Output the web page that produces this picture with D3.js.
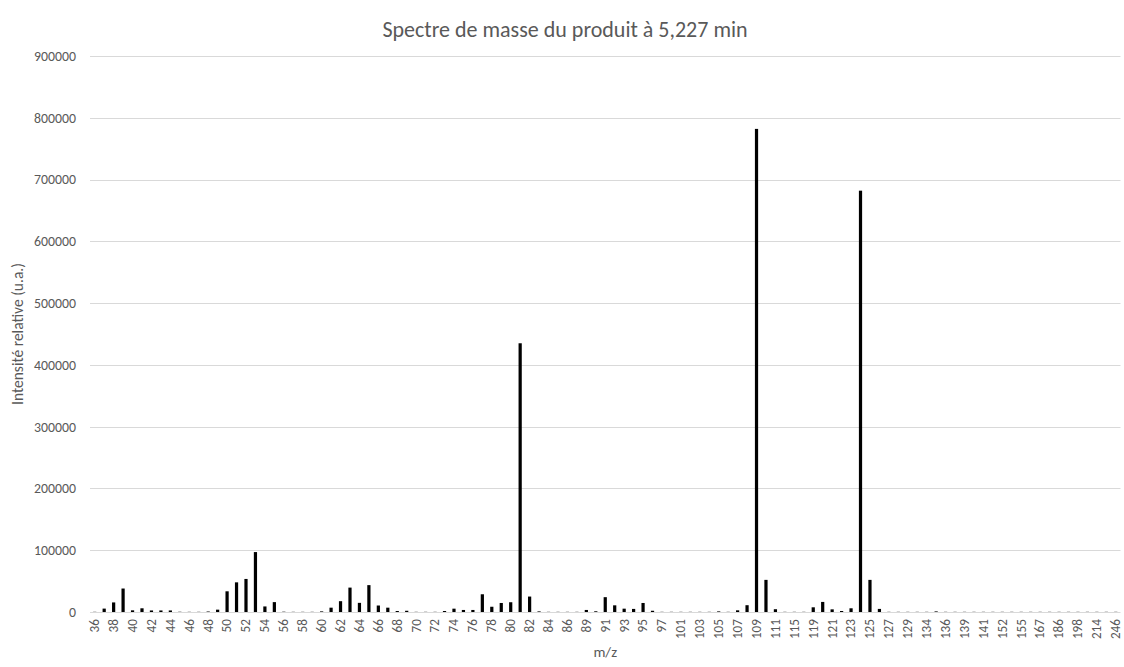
<!DOCTYPE html>
<html>
<head>
<meta charset="utf-8">
<script src="https://cdn.jsdelivr.net/npm/d3@7/dist/d3.min.js"></script>
<style>
  html, body { margin: 0; padding: 0; background: #fff; }
  svg { display: block; }
  text { font-family: Calibri, Carlito, "Open Sans", sans-serif; fill: #595959; }
</style>
</head>
<body>
<svg id="chart" width="1124" height="667"></svg>
<script>
// m/z categories (one bar each) and their intensities
const mzValues = [
  36, 37, 38, 39, 40, 41, 42, 43, 44, 45, 46, 47, 48, 49, 50, 51, 52, 53, 54, 55,
  56, 57, 58, 59, 60, 61, 62, 63, 64, 65, 66, 67, 68, 69, 70, 71, 72, 73, 74, 75,
  76, 77, 78, 79, 80, 81, 82, 83, 84, 85, 86, 87, 89, 90, 91, 92, 93, 94, 95, 96,
  97, 99, 101, 102, 103, 104, 105, 106, 107, 108, 109, 110, 111, 113, 115, 117, 119, 120, 121, 122,
  123, 124, 125, 126, 127, 128, 129, 131, 134, 135, 136, 137, 139, 140, 141, 147, 152, 154, 155, 163,
  167, 178, 186, 191, 198, 207, 214, 230, 246
];
const intensities = [
  300, 5500, 15500, 38000, 2700, 6000, 2500, 2500, 2500, 400, 300, 300, 800, 3800, 33500, 48000, 53500, 97000, 9000, 16000,
  500, 300, 300, 300, 1000, 7000, 17500, 39500, 14800, 43500, 10500, 7000, 1600, 2000, 300, 300, 300, 1600, 5400, 3300,
  3300, 28700, 8500, 14600, 15800, 435000, 25000, 1000, 300, 300, 300, 300, 3300, 1200, 24000, 10800, 5400, 5000, 14600, 2000,
  300, 300, 300, 300, 300, 300, 1000, 300, 2700, 11000, 782000, 52000, 4500, 300, 300, 300, 7600, 16300, 4300, 1600,
  6000, 682000, 52000, 5000, 300, 300, 300, 300, 300, 1000, 300, 300, 300, 300, 300, 300, 300, 300, 300, 300,
  300, 300, 300, 300, 300, 300, 300, 300, 300
];
const yTicks = [0, 100000, 200000, 300000, 400000, 500000, 600000, 700000, 800000, 900000];

const titleText = "Spectre de masse du produit à 5,227 min";
const xTitle = "m/z";
const yTitle = "Intensité relative (u.a.)";

const data = mzValues.map((mz, i) => ({ mz: String(mz), v: intensities[i] }));

const svg = d3.select("#chart");
const margin = { left: 90, right: 1120.5, top: 56, bottom: 612 };

const x = d3.scaleBand()
  .domain(data.map(d => d.mz))
  .range([margin.left, margin.right])
  .paddingInner(0.66)
  .paddingOuter(0.33);

const y = d3.scaleLinear()
  .domain([0, 900000])
  .range([margin.bottom, margin.top]);

// horizontal gridlines
svg.append("g")
  .selectAll("line")
  .data(yTicks)
  .join("line")
  .attr("x1", margin.left)
  .attr("x2", margin.right)
  .attr("y1", d => Math.round(y(d)) + 0.5)
  .attr("y2", d => Math.round(y(d)) + 0.5)
  .attr("stroke", "#d9d9d9")
  .attr("stroke-width", 1);

// y axis labels
const yAxis = d3.axisLeft(y).tickValues(yTicks).tickSize(0).tickPadding(0).tickFormat(d3.format("d"));
const gy = svg.append("g").attr("transform", `translate(${margin.left - 14},0)`).call(yAxis);
gy.select(".domain").remove();
gy.selectAll("text").style("font-size", "13.8px").attr("fill", "#595959");

// bars
svg.append("g")
  .selectAll("rect")
  .data(data)
  .join("rect")
  .attr("x", d => x(d.mz))
  .attr("width", x.bandwidth())
  .attr("y", d => y(d.v))
  .attr("height", d => y(0) - y(d.v))
  .attr("fill", "#000");

// x axis: every other category labelled, rotated
const labelled = data.filter((d, i) => i % 2 === 0).map(d => d.mz);
const xAxis = d3.axisBottom(x).tickValues(labelled).tickSize(0).tickPadding(0);
const gx = svg.append("g").attr("transform", `translate(0,${margin.bottom})`).call(xAxis);
gx.select(".domain").remove();
gx.selectAll("text")
  .style("font-size", "13.2px")
  .attr("fill", "#595959")
  .attr("transform", "rotate(-90)")
  .attr("text-anchor", "end")
  .attr("x", -7)
  .attr("y", 0)
  .attr("dy", "0.33em");

// titles
svg.append("text")
  .attr("x", 565)
  .attr("y", 37)
  .attr("text-anchor", "middle")
  .style("font-size", "22px")
  .text(titleText);

svg.append("text")
  .attr("x", (margin.left + margin.right) / 2)
  .attr("y", 657)
  .attr("text-anchor", "middle")
  .style("font-size", "15px")
  .text(xTitle);

svg.append("text")
  .attr("transform", `translate(23,${(margin.top + margin.bottom) / 2}) rotate(-90)`)
  .attr("text-anchor", "middle")
  .style("font-size", "15.5px")
  .text(yTitle);
</script>
</body>
</html>
